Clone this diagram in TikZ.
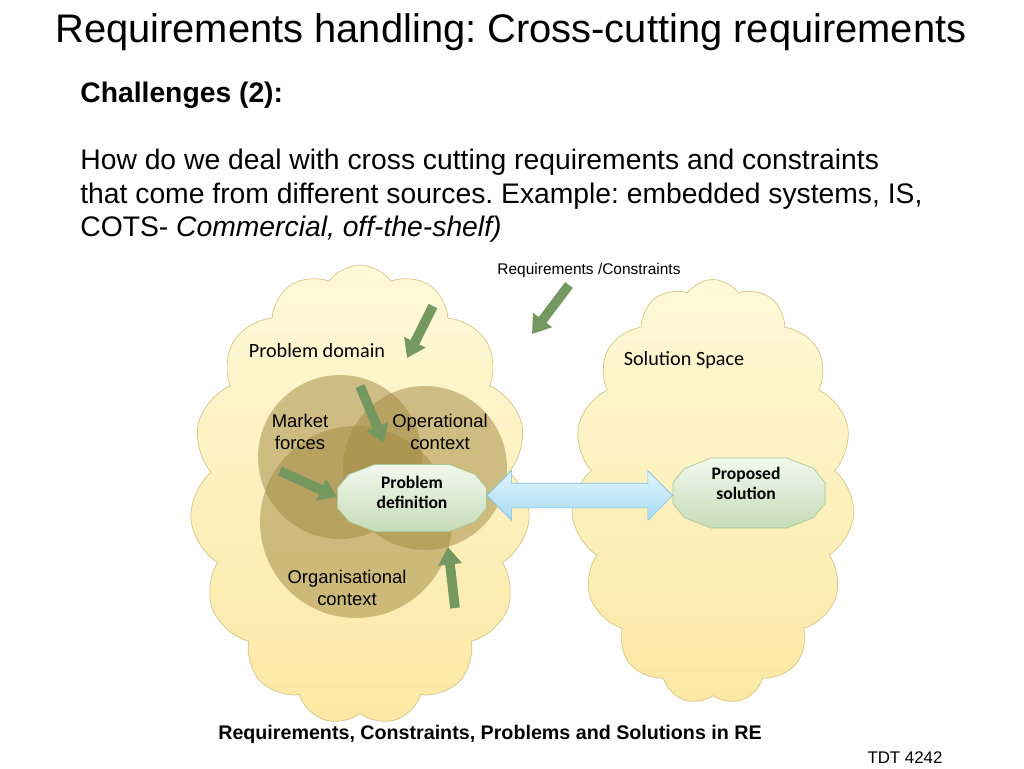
\documentclass[tikz,border=0pt]{standalone}
\usepackage{fontspec}
\setmainfont{Liberation Sans}
\newfontfamily\calibri{Carlito}
\usetikzlibrary{shapes.symbols,shapes.arrows,arrows.meta,calc}
\frenchspacing

\definecolor{cloudtop}{HTML}{FFF9D8}
\definecolor{cloudbot}{HTML}{FBE8A4}
\definecolor{cloudline}{HTML}{D8C68A}
\definecolor{venn}{HTML}{A38B45}
\definecolor{boxtop}{HTML}{F2F8EE}
\definecolor{boxbot}{HTML}{C6DDB8}
\definecolor{boxline}{HTML}{A9C79A}
\definecolor{linktop}{HTML}{E2F5FD}
\definecolor{linkbot}{HTML}{A6DAF2}
\definecolor{linkline}{HTML}{7DBFE0}
\definecolor{reqgreen}{HTML}{759861}

% twelve-sided outline round a point, half sizes in px
\newcommand\defoutline[3]{%
  \draw[draw=boxline, top color=boxtop, bottom color=boxbot]
    ($(#1)+(#2,-0.3*#3)$) -- ($(#1)+(0.85*#2,-0.7*#3)$) -- ($(#1)+(0.5*#2,-#3)$)
    -- ($(#1)+(-0.5*#2,-#3)$) -- ($(#1)+(-0.85*#2,-0.7*#3)$) -- ($(#1)+(-#2,-0.3*#3)$)
    -- ($(#1)+(-#2,0.3*#3)$) -- ($(#1)+(-0.85*#2,0.7*#3)$) -- ($(#1)+(-0.5*#2,#3)$)
    -- ($(#1)+(0.5*#2,#3)$) -- ($(#1)+(0.85*#2,0.7*#3)$) -- ($(#1)+(#2,0.3*#3)$) -- cycle;}

\tikzset{
  cloudbox/.style={cloud, cloud puffs=15, cloud puff arc=110, cloud ignores aspect,
    draw=cloudline, top color=cloudtop, bottom color=cloudbot, line width=0.4pt},
  venncircle/.style={circle, fill=venn, fill opacity=0.52, minimum size=#1, inner sep=0},
  defbox/.style={inner sep=0},
  deftext/.style={align=center, inner sep=0, font=\calibri\bfseries\fontsize{10}{11.3}\selectfont},
  linkarrow/.style={double arrow, double arrow head extend=0.25cm, minimum width=0.98cm,
    minimum height=3.72cm, inner xsep=0, inner ysep=0.24cm, draw=linkline,
    top color=linktop, bottom color=linkbot},
  reqarrow/.style={draw=reqgreen, line width=5.5pt, -{Triangle[length=10pt,width=13pt]}},
  label/.style={align=center, font=\fontsize{10.5}{12.5}\selectfont},
  cloudlabel/.style={font=\calibri\fontsize{11.5}{13}\selectfont}
}

\begin{document}
\begin{tikzpicture}[x=0.02cm, y=-0.02cm]
  \fill[white] (0,0) rectangle (1024,768);
  \useasboundingbox (0,0) rectangle (1024,768);

  \node[anchor=base west, inner sep=0, font=\fontsize{22.7}{26}\selectfont] (title) at (55,42)
    {Requirements handling: Cross-cutting requirements};
  \node[anchor=base west, inner sep=0, font=\bfseries\fontsize{16.1}{19}\selectfont] (challenges) at (80,102)
    {Challenges (2):};
  \node[anchor=north west, inner sep=0, align=left, font=\fontsize{16.1}{19}\selectfont] (question) at (80,149)
    {How do we deal with cross cutting requirements and constraints\\
     that come from different sources. Example: embedded systems, IS,\\
     COTS- \textit{Commercial, off-the-shelf)}};

  \node[cloudbox, minimum width=6.8cm, minimum height=9.2cm] (problemcloud) at (360,495) {};
  \node[cloudbox, minimum width=5.66cm, minimum height=8.5cm] (solutioncloud) at (713,492) {};

  \node[venncircle=3.28cm] (marketcircle) at (340,457) {};
  \node[venncircle=3.28cm] (operationalcircle) at (425,468) {};
  \node[venncircle=3.84cm] (organisationcircle) at (356,522) {};

  \node[cloudlabel] (domain) at (317,351) {Problem domain};
  \node[cloudlabel] (space) at (684,360) {Solution Space};
  \node[font=\fontsize{8.8}{10}\selectfont] (reqs) at (589,270) {Requirements /Constraints};
  \node[label] (market) at (300,432) {Market\\forces};
  \node[label] (operational) at (440,432) {Operational\\context};
  \node[label] (organisation) at (347,588) {Organisational\\context};

  \coordinate (domaintail) at (433,306);
  \coordinate (domaintip) at (407,358);
  \coordinate (reqtail) at (569,285);
  \coordinate (reqtip) at (532,334);
  \coordinate (operationaltail) at (360,386);
  \coordinate (operationaltip) at (384,443);
  \coordinate (markettail) at (280,471);
  \coordinate (markettip) at (337,497);
  \coordinate (organisationtail) at (455,608);
  \coordinate (organisationtip) at (448,547);

  \draw[reqarrow] (domaintail) -- (domaintip);
  \draw[reqarrow] (reqtail) -- (reqtip);
  \draw[reqarrow] (operationaltail) -- (operationaltip);
  \draw[reqarrow] (markettail) -- (markettip);
  \draw[reqarrow] (organisationtail) -- (organisationtip);

  \coordinate (pdefc) at (412,498);
  \coordinate (psolc) at (749,493);
  \defoutline{pdefc}{74.5}{33.5}
  \defoutline{psolc}{76}{35}
  \node[defbox, minimum width=2.98cm, minimum height=1.34cm] (pdef) at (pdefc) {};
  \node[defbox, minimum width=3.04cm, minimum height=1.4cm] (psol) at (psolc) {};
  \node[deftext] (pdeftext) at ($(pdef.center)+(0,-6)$) {Problem\\definition};
  \node[deftext] (psoltext) at ($(psol.center)+(-3,-10)$) {Proposed\\solution};
  \node[linkarrow] (link) at ($(pdef.east)!0.5!(psol.west)$) {};

  \node[font=\bfseries\fontsize{11.2}{13}\selectfont] (caption) at (490,734)
    {Requirements, Constraints, Problems and Solutions in RE};
  \node[font=\fontsize{9.6}{11}\selectfont] (course) at (905,758) {TDT 4242};
\end{tikzpicture}
\end{document}
